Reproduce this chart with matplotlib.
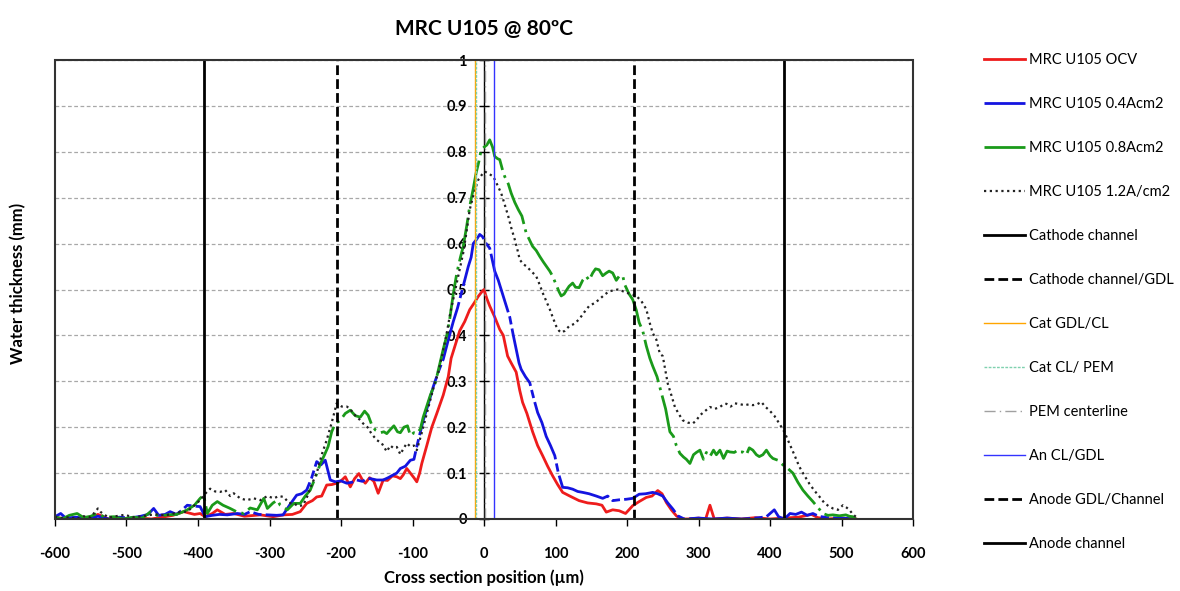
import numpy as np
import matplotlib.pyplot as plt
from matplotlib.patches import Rectangle
from matplotlib.lines import Line2D

plt.rcParams["font.family"] = ["Lato", "DejaVu Sans"]

# ---- data ----
ocv_x = [-600, -585, -570, -555, -540, -525, -510, -495, -480, -465, -450, -435, -420, -405, -397,
         -390, -380, -373, -362, -350, -335, -313, -295, -280, -268, -257, -248, -240, -234, -227,
         -220, -213, -206, -200, -194, -187, -181, -175, -170, -166, -160, -154, -148, -141, -135,
         -128, -122, -117, -113, -108, -103, -98, -94, -90, -87, -80, -73, -66, -57, -50, -46, -40,
         -34, -27, -20, -14, -8, -3, 0, 4, 8, 15, 22, 27, 33, 38, 45, 50, 54, 60, 68, 75, 82, 89,
         96, 103, 110, 120, 133, 145, 157, 165, 171, 180, 189, 198, 208, 217, 227, 235, 243, 249,
         255, 262, 269, 275, 285, 300, 310, 316, 322, 340, 360, 380, 400, 420, 440, 458, 467, 480,
         500, 520]
ocv_y = [0.004, 0.0, 0.002, 0.0, 0.01, 0.0, 0.003, 0.0, 0.002, 0.0, 0.004, 0.008, 0.016, 0.01, 0.012,
         0.005, 0.012, 0.02, 0.01, 0.012, 0.006, 0.009, 0.005, 0.009, 0.01, 0.016, 0.034, 0.04, 0.048, 0.05,
         0.074, 0.075, 0.078, 0.083, 0.092, 0.07, 0.088, 0.099, 0.085, 0.078, 0.09, 0.082, 0.056, 0.085, 0.084,
         0.094, 0.092, 0.088, 0.096, 0.11, 0.1, 0.09, 0.081, 0.1, 0.121, 0.16, 0.2, 0.23, 0.27, 0.31, 0.35, 0.38,
         0.41, 0.43, 0.456, 0.47, 0.485, 0.495, 0.5, 0.48, 0.464, 0.44, 0.413, 0.4, 0.355, 0.34, 0.32, 0.28, 0.254,
         0.23, 0.19, 0.16, 0.138, 0.115, 0.094, 0.075, 0.058, 0.05, 0.04, 0.035, 0.033, 0.03, 0.015, 0.02, 0.018,
         0.012, 0.029, 0.038, 0.047, 0.05, 0.062, 0.055, 0.036, 0.02, 0.007, 0.0, 0.0, 0.002, 0.0, 0.03, 0.0,
         0.002, 0.0, 0.003, 0.0, 0.002, 0.004, 0.01, 0.003, 0.0, 0.002, 0.0]

i04_x = [-600, -592, -585, -570, -555, -540, -525, -510, -495, -480, -470, -462, -455, -446, -439,
         -430, -422, -415, -405, -397, -390, -380, -370, -359, -345, -335, -327, -315, -303, -290,
         -281, -272, -262, -255, -248, -241, -234, -228, -222, -215, -208, -200, -192, -185, -178,
         -170, -164, -159, -150, -141, -134, -127, -122, -117, -110, -103, -98, -94, -89, -85, -78,
         -71, -64, -57, -50, -43, -37, -32, -27, -22, -18, -15, -10, -6, -2, 3, 8, 15, 20, 26, 31,
         36, 41, 45, 49, 52, 58, 64, 70, 75, 81, 87, 93, 99, 104, 110, 117, 124, 131, 138, 147, 157,
         166, 173, 180, 190, 199, 208, 217, 226, 236, 243, 250, 257, 264, 271, 280, 300, 320, 340,
         360, 380, 395, 406, 412, 420, 428, 436, 444, 452, 460, 468, 480, 500, 520]
i04_y = [0.005, 0.012, 0.002, 0.004, 0.0, 0.006, 0.0, 0.004, 0.002, 0.006, 0.01, 0.023, 0.008, 0.01, 0.016,
         0.01, 0.02, 0.03, 0.028, 0.027, 0.005, 0.008, 0.01, 0.009, 0.012, 0.01, 0.016, 0.01, 0.009, 0.008,
         0.009, 0.03, 0.052, 0.055, 0.063, 0.09, 0.125, 0.118, 0.128, 0.085, 0.081, 0.083, 0.078, 0.08, 0.085,
         0.082, 0.088, 0.088, 0.085, 0.085, 0.09, 0.096, 0.1, 0.11, 0.115, 0.128, 0.13, 0.158, 0.19, 0.215, 0.25,
         0.288, 0.32, 0.348, 0.39, 0.43, 0.46, 0.49, 0.52, 0.55, 0.57, 0.6, 0.61, 0.62, 0.615, 0.6, 0.59, 0.54,
         0.52, 0.49, 0.465, 0.44, 0.4, 0.37, 0.34, 0.326, 0.31, 0.297, 0.26, 0.232, 0.21, 0.18, 0.16, 0.138,
         0.1, 0.069, 0.068, 0.065, 0.06, 0.058, 0.055, 0.05, 0.045, 0.05, 0.04, 0.042, 0.043, 0.045, 0.054,
         0.055, 0.058, 0.055, 0.05, 0.035, 0.022, 0.007, 0.0, 0.002, 0.0, 0.002, 0.0, 0.002, 0.005, 0.02,
         0.005, 0.0, 0.012, 0.01, 0.015, 0.008, 0.012, 0.006, 0.003, 0.002, 0.0]

i08_x = [-600, -590, -580, -569, -560, -550, -541, -530, -517, -505, -490, -478, -466, -455, -443,
         -430, -422, -415, -405, -397, -392, -387, -380, -373, -365, -355, -345, -336, -327, -317,
         -308, -303, -295, -289, -285, -280, -275, -266, -257, -250, -243, -236, -229, -223, -218,
         -213, -208, -201, -194, -187, -180, -173, -167, -162, -157, -152, -145, -140, -136, -131,
         -126, -121, -117, -112, -107, -103, -98, -94, -89, -85, -80, -75, -68, -63, -57, -52, -48,
         -43, -38, -33, -29, -24, -20, -15, -11, -7, -4, 0, 4, 8, 12, 15, 19, 22, 26, 29, 34, 38, 43,
         48, 53, 59, 63, 68, 73, 78, 83, 87, 92, 96, 101, 105, 108, 112, 116, 119, 124, 128, 133, 138,
         143, 147, 152, 156, 161, 166, 171, 175, 180, 185, 189, 194, 197, 203, 208, 213, 217, 222, 227,
         232, 236, 242, 248, 254, 260, 265, 269, 274, 279, 283, 288, 293, 297, 302, 307, 311, 316, 321,
         325, 330, 335, 340, 344, 350, 355, 358, 362, 367, 371, 376, 381, 385, 390, 395, 400, 404, 411,
         418, 425, 432, 439, 446, 453, 460, 467, 474, 481, 488, 497, 506, 511, 516, 520]
i08_y = [0.005, 0.0, 0.008, 0.012, 0.003, 0.006, 0.012, 0.004, 0.005, 0.0, 0.004, 0.002, 0.016, 0.006, 0.009,
         0.01, 0.015, 0.02, 0.03, 0.045, 0.052, 0.012, 0.03, 0.038, 0.03, 0.023, 0.015, 0.012, 0.024, 0.02,
         0.045, 0.023, 0.035, 0.041, 0.03, 0.025, 0.02, 0.034, 0.034, 0.05, 0.063, 0.09, 0.12, 0.14, 0.158,
         0.19, 0.208, 0.215, 0.23, 0.237, 0.225, 0.222, 0.235, 0.226, 0.205, 0.194, 0.188, 0.19, 0.186, 0.195,
         0.203, 0.19, 0.188, 0.2, 0.203, 0.182, 0.188, 0.186, 0.196, 0.222, 0.246, 0.27, 0.297, 0.33, 0.37, 0.4,
         0.435, 0.49, 0.536, 0.57, 0.594, 0.64, 0.681, 0.72, 0.754, 0.78, 0.804, 0.81, 0.815, 0.826, 0.81, 0.79,
         0.785, 0.783, 0.76, 0.746, 0.73, 0.71, 0.69, 0.674, 0.66, 0.623, 0.61, 0.594, 0.585, 0.572, 0.56, 0.551,
         0.54, 0.529, 0.51, 0.495, 0.486, 0.49, 0.5, 0.507, 0.514, 0.505, 0.504, 0.52, 0.529, 0.52, 0.536, 0.545,
         0.543, 0.53, 0.536, 0.54, 0.536, 0.52, 0.529, 0.53, 0.51, 0.49, 0.478, 0.455, 0.428, 0.41, 0.377, 0.35,
         0.333, 0.31, 0.275, 0.24, 0.19, 0.18, 0.16, 0.143, 0.135, 0.13, 0.121, 0.14, 0.145, 0.15, 0.13, 0.145,
         0.136, 0.15, 0.14, 0.15, 0.132, 0.148, 0.146, 0.145, 0.15, 0.146, 0.146, 0.14, 0.155, 0.15, 0.14, 0.136,
         0.14, 0.15, 0.138, 0.132, 0.128, 0.118, 0.11, 0.1, 0.08, 0.063, 0.05, 0.038, 0.025, 0.012, 0.008, 0.009,
         0.007, 0.009, 0.006, 0.005, 0.0]

i12_x = [-600, -590, -580, -570, -560, -550, -540, -536, -525, -515, -503, -490, -478, -466, -455,
         -445, -434, -425, -415, -405, -397, -390, -383, -376, -369, -362, -355, -350, -341, -332,
         -322, -313, -303, -294, -287, -280, -273, -266, -260, -253, -247, -241, -234, -227, -220,
         -213, -206, -199, -192, -187, -183, -176, -169, -163, -157, -150, -143, -136, -131, -127,
         -122, -117, -112, -108, -103, -98, -94, -87, -80, -75, -69, -64, -58, -52, -47, -41, -35,
         -29, -25, -20, -14, -8, -3, 1, 7, 13, 18, 24, 29, 34, 38, 43, 47, 50, 55, 59, 66, 73, 78, 82,
         87, 92, 96, 101, 105, 108, 113, 119, 126, 133, 140, 147, 154, 161, 168, 175, 181, 187, 193,
         199, 206, 213, 220, 227, 232, 236, 241, 246, 250, 257, 262, 267, 272, 278, 285, 292, 297, 302,
         309, 316, 323, 330, 335, 339, 345, 351, 358, 365, 371, 376, 382, 388, 393, 399, 406, 413, 420,
         427, 434, 441, 448, 455, 462, 469, 476, 482, 488, 495, 502, 507, 511, 516, 520]
i12_y = [0.005, 0.002, 0.004, 0.0, 0.006, 0.004, 0.023, 0.015, 0.003, 0.006, 0.009, 0.004, 0.006, 0.009, 0.01,
         0.008, 0.012, 0.015, 0.016, 0.03, 0.041, 0.055, 0.066, 0.06, 0.059, 0.063, 0.05, 0.056, 0.045, 0.041,
         0.045, 0.041, 0.05, 0.045, 0.05, 0.048, 0.035, 0.034, 0.028, 0.03, 0.05, 0.075, 0.1, 0.14, 0.172,
         0.21, 0.252, 0.245, 0.245, 0.24, 0.23, 0.22, 0.208, 0.2, 0.185, 0.172, 0.165, 0.147, 0.16, 0.155,
         0.157, 0.141, 0.155, 0.165, 0.158, 0.16, 0.15, 0.188, 0.23, 0.26, 0.295, 0.319, 0.36, 0.406, 0.45,
         0.493, 0.535, 0.58, 0.62, 0.674, 0.71, 0.739, 0.75, 0.757, 0.752, 0.746, 0.73, 0.71, 0.685, 0.659,
         0.635, 0.609, 0.585, 0.565, 0.555, 0.551, 0.54, 0.529, 0.51, 0.493, 0.475, 0.457, 0.44, 0.42, 0.41,
         0.406, 0.41, 0.42, 0.425, 0.435, 0.45, 0.464, 0.47, 0.478, 0.488, 0.496, 0.498, 0.5, 0.497, 0.493,
         0.49, 0.486, 0.475, 0.457, 0.426, 0.405, 0.391, 0.36, 0.355, 0.295, 0.27, 0.244, 0.23, 0.215, 0.21,
         0.208, 0.215, 0.226, 0.235, 0.244, 0.24, 0.244, 0.25, 0.251, 0.245, 0.252, 0.25, 0.248, 0.25, 0.248,
         0.25, 0.255, 0.245, 0.237, 0.225, 0.208, 0.19, 0.165, 0.14, 0.114, 0.095, 0.077, 0.062, 0.049, 0.035,
         0.028, 0.023, 0.02, 0.03, 0.025, 0.02, 0.01, 0.005]

series_labels = ["MRC U105 OCV", "MRC U105 0.4Acm2", "MRC U105 0.8Acm2", "MRC U105 1.2A/cm2"]

# layer boundaries (µm)
boundary_x = [-391, -205, -12, -11, 1, 14, 210, 420]
boundary_labels = ["Cathode channel", "Cathode channel/GDL", "Cat GDL/CL", "Cat CL/ PEM",
                   "PEM centerline", "An CL/GDL", "Anode GDL/Channel", "Anode channel"]

x_ticks = list(range(-600, 601, 100))
y_ticks = [0, 0.1, 0.2, 0.3, 0.4, 0.5, 0.6, 0.7, 0.8, 0.9, 1.0]
y_tick_labels = ["0", "0.1", "0.2", "0.3", "0.4", "0.5", "0.6", "0.7", "0.8", "0.9", "1"]

# ---- figure ----
fig = plt.figure(figsize=(11.8, 5.91), dpi=100)
ax = fig.add_axes([55 / 1180, 1 - 519 / 591, (913 - 55) / 1180, (519 - 60) / 591])

ax.set_xlim(-600, 600)
ax.set_ylim(0, 1)

ax.yaxis.grid(True, linestyle=(0, (3, 2)), color="#a8a8a8", lw=0.9)
ax.set_axisbelow(True)

series_styles = [
    dict(color="#ee1c1c", ls="-", lw=2.0),
    dict(color="#1414e0", ls=(0, (22, 1.5, 3, 1.5)), lw=2.0),
    dict(color="#1a9a1a", ls=(0, (16, 2, 1, 2)), lw=2.0),
    dict(color="#222222", ls=(0, (1, 1.6)), lw=1.6),
]
handles = []
for xs, ys, lab, st in zip([ocv_x, i04_x, i08_x, i12_x], [ocv_y, i04_y, i08_y, i12_y],
                           series_labels, series_styles):
    h, = ax.plot(xs, ys, label=lab, zorder=3, **st)
    handles.append(h)

boundary_styles = [
    dict(color="black", ls="-", lw=2.0),
    dict(color="black", ls=(0, (3.5, 1.5)), lw=2.0),
    dict(color="#ffa500", ls="-", lw=1.0),
    dict(color="#7fd1ae", ls=(0, (2, 1)), lw=1.0),
    dict(color="#a0a0a0", ls=(0, (8, 3, 1, 3)), lw=1.0),
    dict(color="#3333ff", ls="-", lw=1.0),
    dict(color="black", ls=(0, (3.5, 1.5)), lw=2.0),
    dict(color="black", ls="-", lw=2.0),
]
for bx, lab, st in zip(boundary_x, boundary_labels, boundary_styles):
    ax.axvline(bx, ymin=0, ymax=1, zorder=4, **st)
    handles.append(Line2D([], [], label=lab, **st))

# axes: y axis crosses at x = 0, frame drawn round the plot area
for s in ["top", "right", "bottom"]:
    ax.spines[s].set_visible(False)
ax.spines["left"].set_position(("data", 0))
ax.spines["left"].set_linewidth(1.0)
ax.spines["left"].set_zorder(2.5)
ax.add_patch(Rectangle((0, 0), 1, 1, transform=ax.transAxes, fill=False,
                       edgecolor="#333333", lw=1.5, clip_on=False, zorder=5))

ax.set_xticks(x_ticks)
ax.set_xticklabels([str(v) for v in x_ticks], fontweight="bold", fontsize=10.5)
ax.tick_params(axis="x", direction="out", length=5, width=1, pad=15)
ax.set_yticks(y_ticks)
ax.set_yticklabels(y_tick_labels, fontweight="bold", fontsize=10.5)
ax.tick_params(axis="y", direction="inout", length=7, width=1, pad=9)

ax.set_title("MRC U105 @ 80ºC", fontsize=15, fontweight="bold", pad=18)
ax.set_xlabel("Cross section position (µm)", fontsize=12, fontweight="bold", labelpad=6)
fig.text(18 / 1180, 1 - 283 / 591, "Water thickness (mm)", rotation=90, ha="center",
         va="center", fontsize=12, fontweight="bold")

fig.legend(handles=handles, loc="upper left", bbox_to_anchor=(978 / 1180, 1 - 47 / 591),
           frameon=False, fontsize=10.5, handlelength=2.8, handletextpad=0.3,
           labelspacing=2.06, borderaxespad=0)

fig.savefig("out.png", dpi=100, facecolor="white")
